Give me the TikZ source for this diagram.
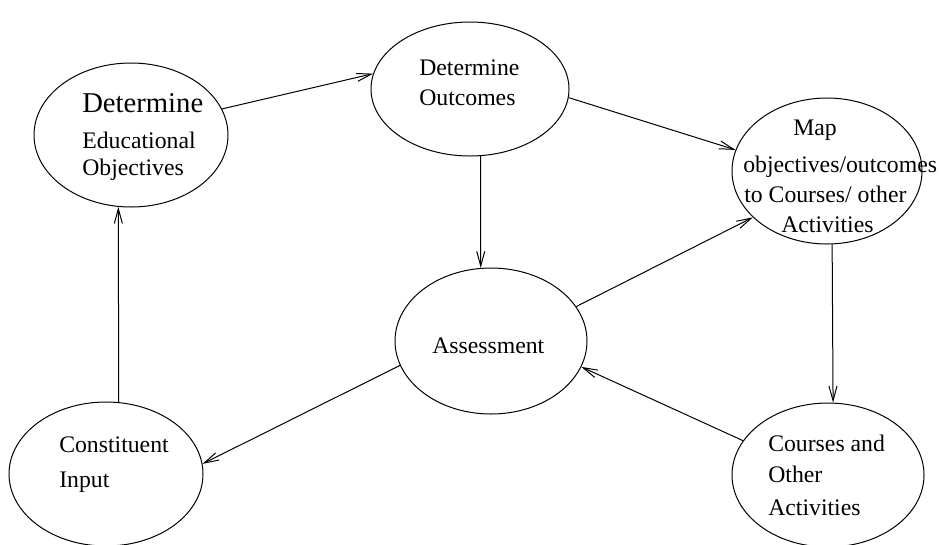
\documentclass[tikz,border=0pt]{standalone}
\usepackage{fontspec}
\setmainfont{Liberation Serif}
\usetikzlibrary{shapes.geometric,arrows.meta}

\begin{document}
\begin{tikzpicture}[x=0.75pt,y=-0.75pt,
    oval/.style={draw,ellipse,line width=0.75pt,inner sep=0pt},
    lbl/.style={anchor=base west,inner sep=0pt,font=\fontsize{17.8}{20}\selectfont},
    flow/.style={line width=0.75pt,-{Straight Barb[length=11pt,width=6pt]}}]
    \useasboundingbox (0,0) rectangle (941,544);
    % the six ovals
    \node[oval,minimum width=145.5pt,minimum height=108pt] (educ) at (131,135) {};
    \node[oval,minimum width=148.5pt,minimum height=100.5pt] (outc) at (470,89) {};
    \node[oval,minimum width=142.5pt,minimum height=109.5pt] (map) at (827,171) {};
    \node[oval,minimum width=144pt,minimum height=109.5pt] (assess) at (491,341) {};
    \node[oval,minimum width=145.5pt,minimum height=108pt] (const) at (106,474) {};
    \node[oval,minimum width=144pt,minimum height=108pt] (courses) at (828,475) {};
    % texts
    \node[lbl,font=\fontsize{21.5}{24}\selectfont] (educa) at (82,112) {Determine};
    \node[lbl] (educb) at (82,148) {Educational};
    \node[lbl] (educc) at (82,175) {Objectives};
    \node[lbl] (outca) at (419,75) {Determine};
    \node[lbl] (outcb) at (419,105) {Outcomes};
    \node[lbl] (mapa) at (793,135) {Map};
    \node[lbl] (mapb) at (743,172) {objectives/outcomes};
    \node[lbl] (mapc) at (744,202) {to Courses/ other};
    \node[lbl] (mapd) at (781,232) {Activities};
    \node[lbl] (assessa) at (432,353) {Assessment};
    \node[lbl] (consta) at (59,452) {Constituent};
    \node[lbl] (constb) at (59,487) {Input};
    \node[lbl] (coursesa) at (768,451) {Courses and};
    \node[lbl] (coursesb) at (768,482) {Other};
    \node[lbl] (coursesc) at (768,515) {Activities};
    % arrows
    \draw[flow] (educ.16) -- (outc.171);
    \draw[flow] (outc.355) -- (map.167);
    \draw[flow] (outc.279) -- (assess.98);
    \draw[flow] (assess.22) -- (map.212);
    \draw[flow] (map.274.5) -- (courses.86);
    \draw[flow] (courses.158) -- (assess.344);
    \draw[flow] (assess.195) -- (const.6.5);
    \draw[flow] (const.80.4) -- (educ.260);
\end{tikzpicture}
\end{document}
